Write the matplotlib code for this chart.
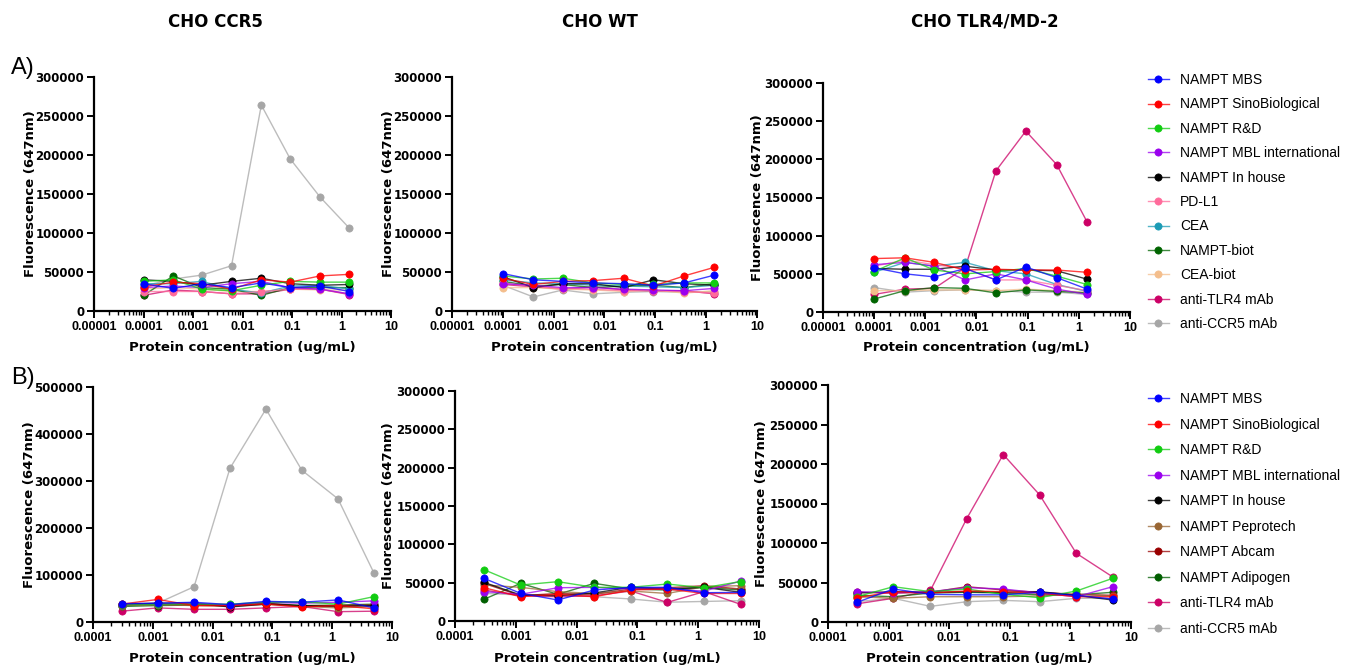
import matplotlib
matplotlib.use("Agg")
import matplotlib.pyplot as plt
from matplotlib.lines import Line2D
from matplotlib.ticker import FixedLocator, FixedFormatter, LogLocator, NullFormatter
from matplotlib.colors import to_rgba

# ---------------- data ----------------
conc_a = [0.0001, 0.0004, 0.0015, 0.006, 0.024, 0.092, 0.37, 1.45]
conc_b = [0.0003, 0.0012, 0.0049, 0.0195, 0.078, 0.31, 1.25, 5.0]

series_a = ["NAMPT MBS", "NAMPT SinoBiological", "NAMPT R&D", "NAMPT MBL international",
            "NAMPT In house", "PD-L1", "CEA", "NAMPT-biot", "CEA-biot",
            "anti-TLR4 mAb", "anti-CCR5 mAb"]
series_b = ["NAMPT MBS", "NAMPT SinoBiological", "NAMPT R&D", "NAMPT MBL international",
            "NAMPT In house", "NAMPT Peprotech", "NAMPT Abcam", "NAMPT Adipogen",
            "anti-TLR4 mAb", "anti-CCR5 mAb"]

colors = {
    "NAMPT MBS": "#0000FF",
    "NAMPT SinoBiological": "#FF0000",
    "NAMPT R&D": "#11CC11",
    "NAMPT MBL international": "#9A00EE",
    "NAMPT In house": "#000000",
    "PD-L1": "#FF6B9B",
    "CEA": "#1B9BB5",
    "NAMPT-biot": "#006400",
    "CEA-biot": "#F4BE8C",
    "anti-TLR4 mAb": "#CC0066",
    "anti-CCR5 mAb": "#A6A6A6",
    "NAMPT Peprotech": "#996633",
    "NAMPT Abcam": "#990000",
    "NAMPT Adipogen": "#005E00",
}

# Row A, CHO CCR5
ccr5_a = {
    "NAMPT MBS": [35000, 29000, 35000, 30000, 36000, 30000, 32000, 25000],
    "NAMPT SinoBiological": [31000, 37000, 35000, 28000, 40000, 37000, 45000, 47000],
    "NAMPT R&D": [38000, 40000, 28000, 26000, 33000, 38000, 37000, 37000],
    "NAMPT MBL international": [30000, 32000, 30000, 35000, 38000, 30000, 28000, 22000],
    "NAMPT In house": [40000, 38000, 33000, 38000, 42000, 35000, 33000, 34000],
    "PD-L1": [25000, 25000, 25000, 22000, 25000, 28000, 28000, 22000],
    "CEA": [35000, 35000, 38000, 28000, 23000, 32000, 33000, 28000],
    "NAMPT-biot": [20000, 45000, 30000, 28000, 20000, 30000, 30000, 30000],
    "CEA-biot": [28000, 30000, 28000, 25000, 25000, 28000, 27000, 27000],
    "anti-TLR4 mAb": [20000, 27000, 25000, 22000, 22000, 28000, 28000, 21000],
    "anti-CCR5 mAb": [32000, 41000, 46000, 58000, 264000, 195000, 146000, 106000],
}
# Row A, CHO WT
wt_a = {
    "NAMPT MBS": [48000, 40000, 38000, 36000, 35000, 33000, 36000, 46000],
    "NAMPT SinoBiological": [42000, 34000, 38000, 39000, 42000, 32000, 45000, 56000],
    "NAMPT R&D": [45000, 41000, 42000, 36000, 34000, 34000, 36000, 36000],
    "NAMPT MBL international": [35000, 33000, 30000, 30000, 28000, 27000, 26000, 29000],
    "NAMPT In house": [44000, 30000, 35000, 35000, 30000, 40000, 35000, 33000],
    "PD-L1": [36000, 31000, 29000, 28000, 26000, 26000, 25000, 23000],
    "CEA": [40000, 36000, 35000, 33000, 32000, 31000, 30000, 33000],
    "NAMPT-biot": [38000, 32000, 34000, 30000, 32000, 33000, 30000, 35000],
    "CEA-biot": [30000, 30000, 28000, 27000, 25000, 27000, 23000, 26000],
    "anti-TLR4 mAb": [34000, 31000, 28000, 31000, 27000, 26000, 26000, 22000],
    "anti-CCR5 mAb": [33000, 18000, 27000, 22000, 24000, 25000, 24000, 25000],
}
# Row A, CHO TLR4/MD-2
tlr4_a = {
    "NAMPT MBS": [58000, 50000, 46000, 57000, 42000, 59000, 45000, 30000],
    "NAMPT SinoBiological": [70000, 71000, 65000, 55000, 56000, 55000, 55000, 52000],
    "NAMPT R&D": [53000, 71000, 55000, 50000, 53000, 57000, 47000, 36000],
    "NAMPT MBL international": [62000, 65000, 60000, 42000, 50000, 42000, 30000, 23000],
    "NAMPT In house": [57000, 56000, 56000, 60000, 55000, 55000, 54000, 43000],
    "PD-L1": [60000, 68000, 62000, 57000, 42000, 42000, 35000, 28000],
    "CEA": [52000, 65000, 60000, 65000, 54000, 50000, 36000, 27000],
    "NAMPT-biot": [17000, 28000, 32000, 31000, 25000, 29000, 27000, 25000],
    "CEA-biot": [28000, 28000, 29000, 29000, 28000, 30000, 28000, 26000],
    "anti-TLR4 mAb": [23000, 30000, 31000, 58000, 185000, 237000, 193000, 118000],
    "anti-CCR5 mAb": [32000, 26000, 28000, 29000, 28000, 26000, 26000, 23000],
}
# Row B, CHO CCR5
ccr5_b = {
    "NAMPT MBS": [39000, 40000, 42000, 37000, 44000, 42000, 47000, 30000],
    "NAMPT SinoBiological": [38000, 48000, 35000, 35000, 38000, 32000, 35000, 28000],
    "NAMPT R&D": [36000, 38000, 38000, 38000, 42000, 43000, 38000, 54000],
    "NAMPT MBL international": [37000, 38000, 40000, 35000, 42000, 40000, 42000, 45000],
    "NAMPT In house": [38000, 40000, 40000, 32000, 38000, 35000, 33000, 35000],
    "NAMPT Peprotech": [35000, 37000, 35000, 33000, 38000, 33000, 30000, 33000],
    "NAMPT Abcam": [36000, 38000, 36000, 35000, 40000, 33000, 35000, 36000],
    "NAMPT Adipogen": [33000, 35000, 36000, 35000, 40000, 35000, 36000, 38000],
    "anti-TLR4 mAb": [23000, 30000, 27000, 27000, 30000, 33000, 22000, 23000],
    "anti-CCR5 mAb": [35000, 40000, 75000, 327000, 453000, 323000, 262000, 104000],
}
# Row B, CHO WT
wt_b = {
    "NAMPT MBS": [55600, 36100, 27400, 40400, 43900, 43900, 36900, 37300],
    "NAMPT SinoBiological": [43400, 31700, 34800, 31700, 40400, 41700, 35900, 35900],
    "NAMPT R&D": [66900, 46900, 51300, 43900, 44000, 48200, 43400, 51500],
    "NAMPT MBL international": [38300, 34800, 43400, 43900, 41700, 41700, 39000, 52100],
    "NAMPT In house": [50400, 33900, 33000, 36600, 44000, 41700, 44000, 37400],
    "NAMPT Peprotech": [47000, 43900, 38300, 35900, 39100, 35900, 44800, 46100],
    "NAMPT Abcam": [49100, 33000, 35900, 34800, 41700, 43400, 46000, 41700],
    "NAMPT Adipogen": [28300, 49100, 34800, 49100, 41700, 40400, 43900, 40400],
    "anti-TLR4 mAb": [40400, 33000, 31700, 33000, 39100, 24300, 38300, 21700],
    "anti-CCR5 mAb": [36100, 33900, 33900, 31700, 28700, 24500, 25500, 26500],
}
# Row B, CHO TLR4/MD-2
tlr4_b = {
    "NAMPT MBS": [24900, 41800, 35000, 34400, 34400, 37600, 33700, 29100],
    "NAMPT SinoBiological": [30800, 38400, 36700, 39300, 38400, 36700, 32000, 32000],
    "NAMPT R&D": [32000, 44700, 38400, 41800, 35000, 30800, 39200, 55300],
    "NAMPT MBL international": [38400, 36700, 38400, 43500, 41800, 36700, 32000, 44700],
    "NAMPT In house": [36700, 38400, 37600, 38400, 37600, 38400, 33700, 27800],
    "NAMPT Peprotech": [32000, 30000, 32000, 32000, 32000, 33000, 35000, 33000],
    "NAMPT Abcam": [37600, 36700, 37600, 44700, 40500, 37600, 35000, 33700],
    "NAMPT Adipogen": [33700, 32000, 36700, 37600, 36700, 34400, 34400, 37600],
    "anti-TLR4 mAb": [23000, 30000, 40000, 131000, 212000, 161000, 87000, 57000],
    "anti-CCR5 mAb": [25700, 30000, 19800, 25700, 27400, 25700, 30000, 30000],
}

column_titles = ["CHO CCR5", "CHO WT", "CHO TLR4/MD-2"]
xticks_a = [1e-5, 1e-4, 1e-3, 1e-2, 1e-1, 1, 10]
xticklabels_a = ["0.00001", "0.0001", "0.001", "0.01", "0.1", "1", "10"]
xticks_b = [1e-4, 1e-3, 1e-2, 1e-1, 1, 10]
xticklabels_b = ["0.0001", "0.001", "0.01", "0.1", "1", "10"]

# ---------------- figure ----------------
W, H = 1371, 671
fig = plt.figure(figsize=(W / 100, H / 100), dpi=100)
fig.patch.set_facecolor("white")

YTICK_FONT = dict(family="DejaVu Sans", weight="bold", size=8.5)
XTICK_FONT = dict(family="Liberation Sans", weight="bold", size=9)
LABEL_FONT = dict(family="DejaVu Sans", weight="bold", size=9.5)


def px_axes(left, top, right, bottom):
    return fig.add_axes([left / W, 1 - bottom / H, (right - left) / W, (bottom - top) / H])


def style_labels(labels, font):
    for lab in labels:
        lab.set_fontfamily(font["family"])
        lab.set_fontweight(font["weight"])
        lab.set_fontsize(font["size"])


def draw_panel(ax, conc, data, order, xticks, xlabels, ymax, ystep, ylab_right_px, xlab_top_px, box):
    left, top, right, bottom = box
    # first series in the list is drawn on top
    for z, name in enumerate(reversed(order)):
        c = colors[name]
        ax.plot(conc, data[name], color=to_rgba(c, 0.75), lw=1.0,
                marker="o", ms=5.2, mfc=c, mec=c, mew=0.5, zorder=3 + z, clip_on=False)
    ax.set_xscale("log")
    ax.set_xlim(xticks[0], xticks[-1])
    ax.set_ylim(0, ymax)
    ax.xaxis.set_major_locator(FixedLocator(xticks))
    ax.xaxis.set_major_formatter(FixedFormatter(xlabels))
    ax.xaxis.set_minor_locator(LogLocator(base=10, subs=range(2, 10), numticks=20))
    ax.xaxis.set_minor_formatter(NullFormatter())
    yt = list(range(0, ymax + 1, ystep))
    ax.set_yticks(yt)
    ax.set_yticklabels([str(v) for v in yt])
    for s in ["top", "right"]:
        ax.spines[s].set_visible(False)
    for s in ["left", "bottom"]:
        ax.spines[s].set_linewidth(1.6)
    ax.tick_params(axis="both", which="major", direction="out", length=5, width=1.4, pad=2)
    ax.tick_params(axis="x", which="minor", direction="out", length=3, width=1.0)
    style_labels(ax.get_yticklabels(), YTICK_FONT)
    style_labels(ax.get_xticklabels(), XTICK_FONT)
    ax.set_ylabel("Fluorescence (647nm)", **LABEL_FONT)
    ax.set_xlabel("Protein concentration (ug/mL)", **LABEL_FONT)
    w = right - left
    h = bottom - top
    ax.yaxis.set_label_coords((ylab_right_px - left) / w, 0.5)
    ax.xaxis.set_label_coords(0.5, (bottom - xlab_top_px) / h)


boxes_a = [(94, 77, 391, 311), (452, 77, 757, 311), (823, 83, 1130, 312)]
boxes_b = [(93, 387, 392, 622), (455, 391, 759, 621), (828, 385, 1131, 622)]
ylab_a = [37, 395, 764]
ylab_b = [36, 395, 768]

axes_a = []
for box, data, yl in zip(boxes_a, [ccr5_a, wt_a, tlr4_a], ylab_a):
    ax = px_axes(*box)
    draw_panel(ax, conc_a, data, series_a, xticks_a, xticklabels_a, 300000, 50000, yl, 341, box)
    axes_a.append(ax)

axes_b = []
for box, data, yl, ymax, ystep in zip(boxes_b, [ccr5_b, wt_b, tlr4_b], ylab_b,
                                      [500000, 300000, 300000], [100000, 50000, 50000]):
    ax = px_axes(*box)
    draw_panel(ax, conc_b, data, series_b, xticks_b, xticklabels_b, ymax, ystep, yl, 652, box)
    axes_b.append(ax)

# column headings and row letters
for title, xc in zip(column_titles, [215, 600, 985]):
    fig.text(xc / W, 1 - 22 / H, title, ha="center", va="center",
             family="DejaVu Sans", weight="bold", size=12)
fig.text(11 / W, 1 - 68 / H, "A)", ha="left", va="center", family="Liberation Sans", size=17)
fig.text(11 / W, 1 - 378 / H, "B)", ha="left", va="center", family="Liberation Sans", size=17)


def legend_handles(order):
    hs = []
    for name in order:
        c = colors[name]
        hs.append(Line2D([], [], color=to_rgba(c, 0.75), lw=1.0, marker="o", ms=5.2,
                         mfc=c, mec=c, mew=0.5))
    return hs


leg_font = dict(family="Liberation Sans", size=10)
fig.legend(legend_handles(series_a), series_a, loc="upper left",
           bbox_to_anchor=(1148 / W, 1 - 73 / H), frameon=False, prop=leg_font,
           handlelength=1.5, handletextpad=0.8, labelspacing=0.75, borderpad=0,
           borderaxespad=0)
fig.legend(legend_handles(series_b), series_b, loc="upper left",
           bbox_to_anchor=(1148 / W, 1 - 392 / H), frameon=False, prop=leg_font,
           handlelength=1.5, handletextpad=0.8, labelspacing=0.83, borderpad=0,
           borderaxespad=0)

fig.savefig("out.png", dpi=100, facecolor="white")
